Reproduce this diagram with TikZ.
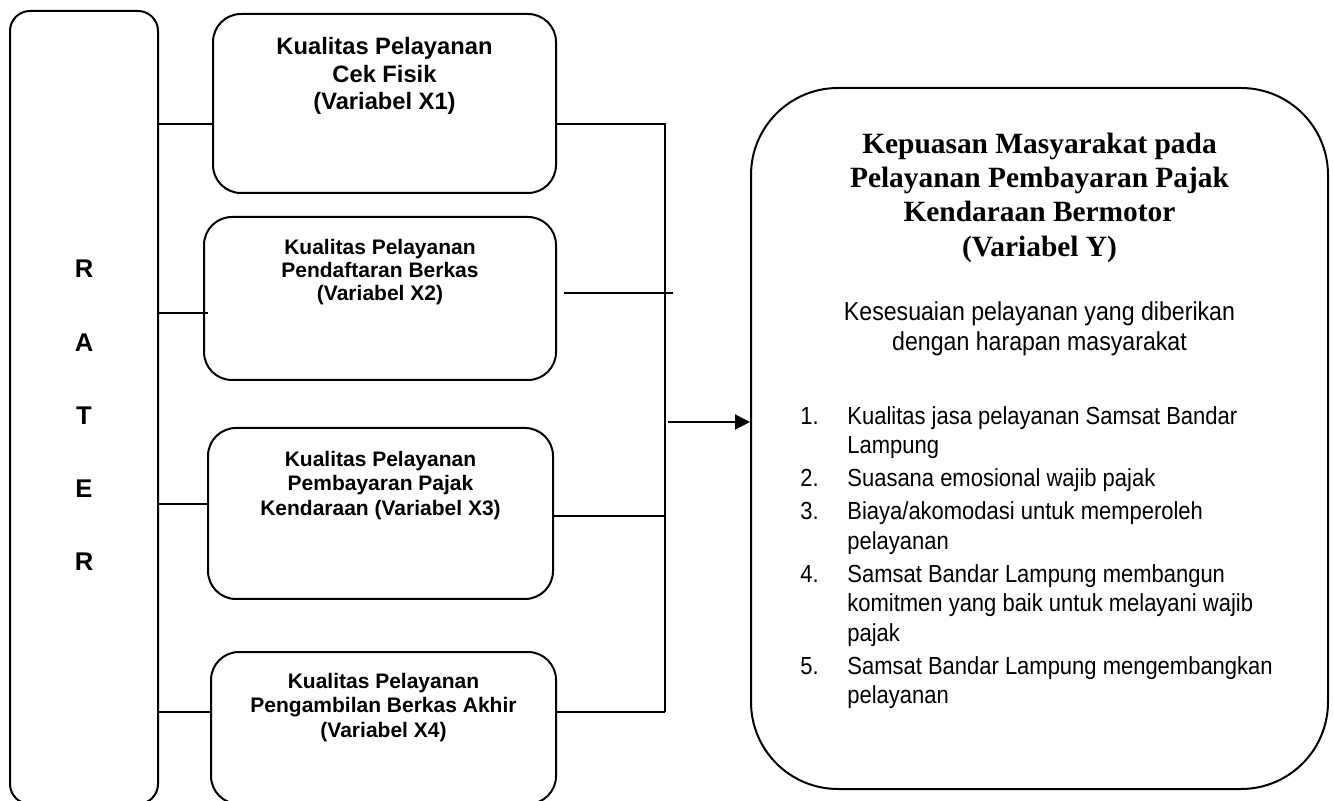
\documentclass[tikz,border=0pt]{standalone}
\usepackage{fontspec}
\setmainfont{Liberation Serif}
\setsansfont{Liberation Sans}
\newfontfamily\narrowsans[FakeStretch=0.89]{Liberation Sans}
\usepackage{tikz}
\usetikzlibrary{arrows.meta,calc,positioning}
\tikzset{
  raterbox/.style={draw=black, fill=white, rounded corners=10pt,
                   line width=1pt, inner sep=0pt},
  varbox/.style={draw=black, fill=white, rounded corners=14pt,
                 line width=1pt, inner sep=0pt},
  resultbox/.style={draw=black, fill=white, rounded corners=43.5pt,
                    line width=1pt, inner sep=0pt},
  link/.style={draw=black, line width=1pt},
  flow/.style={-{Triangle[length=7.5pt,width=7.5pt]},
               draw=black, line width=1pt},
  raterlabel/.style={font=\sffamily\bfseries\fontsize{12.8}{36.6}\selectfont,
                     align=center, inner sep=0pt},
  bigvarlabel/.style={font=\sffamily\bfseries\fontsize{11.85}{13.75}\selectfont,
                      align=center, inner sep=0pt},
  varlabel/.style={font=\sffamily\bfseries\fontsize{10.5}{12.1}\selectfont,
                   align=center, inner sep=0pt},
  resulttitle/.style={font=\bfseries\fontsize{14.7}{17.1}\selectfont,
                      align=center, inner sep=0pt},
  resultsub/.style={font=\narrowsans\fontsize{13}{15}\selectfont,
                    align=center, inner sep=0pt},
  resultlist/.style={font=\narrowsans\fontsize{12.35}{14.75}\selectfont,
                     inner sep=0pt}
}

\begin{document}
\begin{tikzpicture}[x=0.5pt,y=-0.5pt]
  \useasboundingbox (0,0) rectangle (1333,801);

  % RATER column on the left.
  \node[raterbox, minimum width=74pt, minimum height=396.5pt]
    (rater) at (84,407.5) {};
  \node[raterlabel] (raterlbl) at (84,415.5) {R\\A\\T\\E\\R};

  % The four service-quality variables.
  \node[varbox, minimum width=171.5pt, minimum height=89.5pt]
    (x1) at (384.5,103.5) {};
  \node[bigvarlabel, below=12.1pt of x1.north] (x1txt)
    {Kualitas Pelayanan\\Cek Fisik\\(Variabel X1)};

  \node[varbox, minimum width=176pt, minimum height=81.5pt]
    (x2) at (380,298.5) {};
  \node[varlabel, font=\sffamily\bfseries\fontsize{10.5}{11.4}\selectfont,
        below=11.5pt of x2.north] (x2txt)
    {Kualitas Pelayanan\\Pendaftaran Berkas\\(Variabel X2)};

  \node[varbox, minimum width=172.5pt, minimum height=85.5pt]
    (x3) at (380.5,513.5) {};
  \node[varlabel, below=12pt of x3.north] (x3txt)
    {Kualitas Pelayanan\\Pembayaran Pajak\\Kendaraan (Variabel X3)};

  \node[varbox, minimum width=172.5pt, minimum height=76pt]
    (x4) at (383.5,728) {};
  \node[varlabel, below=11pt of x4.north] (x4txt)
    {Kualitas Pelayanan\\Pengambilan Berkas Akhir\\(Variabel X4)};

  % Dependent variable Y.
  \node[resultbox, minimum width=288.5pt, minimum height=350.5pt]
    (y) at (1039.5,438.5) {};
  \node[resulttitle, below=22.9pt of y.north] (ytitle)
    {Kepuasan Masyarakat pada\\Pelayanan Pembayaran Pajak\\
     Kendaraan Bermotor\\(Variabel Y)};
  \node[resultsub, below=107.2pt of y.north] (ysub)
    {Kesesuaian pelayanan yang diberikan\\dengan harapan masyarakat};
  \node[resultlist, anchor=north west,
        below right=158.2pt and 25pt of y.north west] (ylist) {%
    \begin{tabular}{@{}p{23.5pt}@{}l@{}}
      1. & Kualitas jasa pelayanan Samsat Bandar\\
         & Lampung\\[1.75pt]
      2. & Suasana emosional wajib pajak\\[1.75pt]
      3. & Biaya/akomodasi untuk memperoleh\\
         & pelayanan\\[1.75pt]
      4. & Samsat Bandar Lampung membangun\\
         & komitmen yang baik untuk melayani wajib\\
         & pajak\\[1.75pt]
      5. & Samsat Bandar Lampung mengembangkan\\
         & pelayanan
    \end{tabular}};

  % Left links from RATER, the collecting bus, and the arrow to Y.
  \coordinate (bustop) at (665,124);
  \coordinate (busbot) at (665,712);
  \coordinate (l2) at (158,313);
  \coordinate (l3) at (158,504);
  \coordinate (r2) at (673,293);
  \coordinate (r3) at (665,516);
  \coordinate (busmid) at (665,422);

  \draw[link] (rater.east |- bustop) -- (x1.west |- bustop);
  \draw[link] (l2) -- ($(x2.west |- l2)+(2.5pt,0)$);
  \draw[link] (l3) -- (x3.west |- l3);
  \draw[link] (rater.east |- busbot) -- (x4.west |- busbot);

  \draw[link] (x1.east |- bustop) -- (bustop) -- (busbot);
  \draw[link] ($(x2.east |- r2)+(3.5pt,0)$) -- (r2);
  \draw[link] (x3.east |- r3) -- (r3);
  \draw[link] (x4.east |- busbot) -- (busbot);

  \draw[flow] ($(busmid)+(1.5pt,0)$) -- (y.west |- busmid);
\end{tikzpicture}
\end{document}
